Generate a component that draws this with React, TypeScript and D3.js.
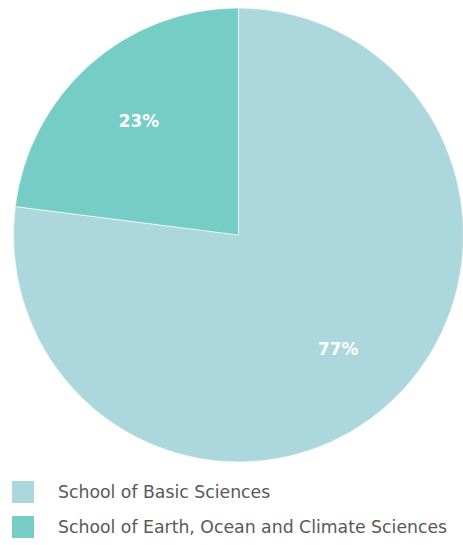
import React from "react";
import * as d3 from "d3";

const categories = ["School of Basic Sciences", "School of Earth, Ocean and Climate Sciences"];
const values = [77, 23];
const labels = ["77%", "23%"];
const colors = ["#acd7dd", "#76cdc5"];

export default function App() {
  const W = 463, H = 545;
  const r = 227;
  const pie = d3.pie<number>().sort(null).value((d) => d);
  const arcs = pie(values);
  const arc = d3.arc<d3.PieArcDatum<number>>().innerRadius(0).outerRadius(r);
  const labelArc = d3.arc<d3.PieArcDatum<number>>().innerRadius(152).outerRadius(152);
  return (
    <svg width={W} height={H} style={{ position: "absolute", left: 0, top: 0 }}>
      <g transform={`translate(238.5,235) scale(${225 / 227},1)`}>
        {arcs.map((a, i) => (
          <path key={i} d={arc(a) || ""} fill={colors[i]} stroke="#fff" strokeWidth={0.6} />
        ))}
        {arcs.map((a, i) => {
          const [x, y] = labelArc.centroid(a);
          return (
            <text key={i} x={x} y={y} dy="0.35em" textAnchor="middle" fill="#fff"
              fontFamily="'DejaVu Sans', sans-serif" fontWeight="bold" fontSize={17}>{labels[i]}</text>
          );
        })}
      </g>
      {categories.map((c, i) => (
        <g key={c} transform={`translate(12,${481 + i * 35})`}>
          <rect width={22} height={22} fill={colors[i]} />
          <text x={46} y={11} dy="0.35em" fill="#595959" fontFamily="'DejaVu Sans', sans-serif" fontSize={17.3}>{c}</text>
        </g>
      ))}
    </svg>
  );
}
